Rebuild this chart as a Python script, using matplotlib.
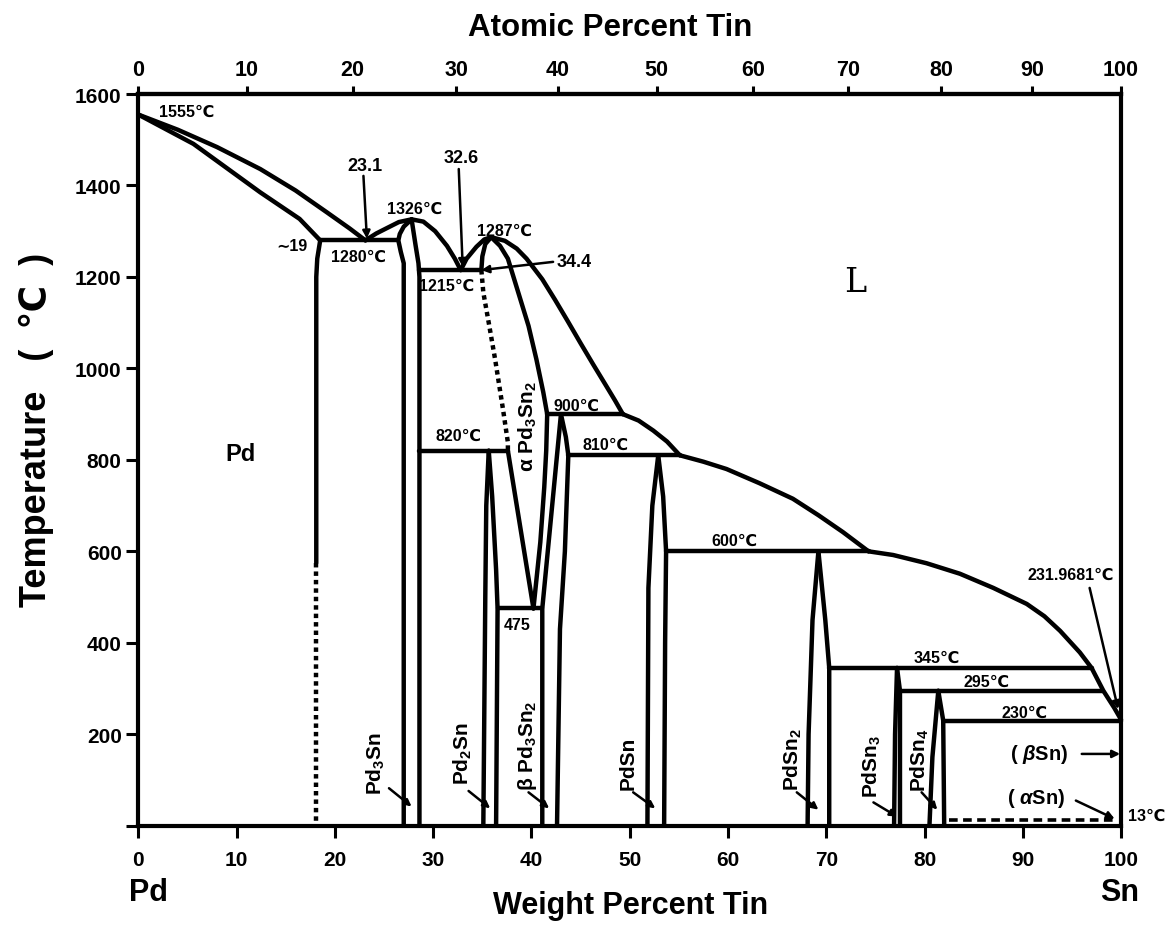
import matplotlib.pyplot as plt
import numpy as np

plt.rcParams["font.family"] = ["Liberation Sans", "DejaVu Sans"]
plt.rcParams["font.weight"] = "bold"
plt.rcParams["mathtext.fontset"] = "custom"
plt.rcParams["mathtext.rm"] = "Liberation Sans:bold"
plt.rcParams["mathtext.bf"] = "Liberation Sans:bold"
plt.rcParams["mathtext.it"] = "Liberation Sans:italic:bold"
plt.rcParams["mathtext.default"] = "bf"

M_PD = 106.42
M_SN = 118.71

# ---- phase boundaries, x in wt% Sn, t in deg C ----
pd_liq_x = [0, 4, 8, 12.4, 16, 19.2, 21.5, 23.1]
pd_liq_t = [1555, 1522, 1484, 1436, 1389, 1341, 1306, 1280]
pd_sol_x = [0, 5.6, 12.4, 16.4, 18.5]
pd_sol_t = [1555, 1491, 1385, 1327, 1280]
pd_solvus_x = [18.5, 18.2, 18.1, 18.1]
pd_solvus_t = [1280, 1240, 1200, 575]
pd_solvus_dot_x = [18.1, 18.1]
pd_solvus_dot_t = [575, 0]

pd3sn_liq_x = [23.1, 24.2, 25.3, 26.5, 27.8, 29.0, 30.2, 31.4, 32.2, 32.8]
pd3sn_liq_t = [1280, 1295, 1307, 1320, 1326, 1321, 1300, 1268, 1240, 1215]
pd3sn_left_x = [27.8, 27.0, 26.6, 26.45, 26.7, 27.0, 27.0]
pd3sn_left_t = [1326, 1310, 1294, 1280, 1255, 1230, 0]
pd3sn_right_x = [27.8, 28.2, 28.5, 28.6, 28.6]
pd3sn_right_t = [1326, 1270, 1230, 1200, 0]

liq_1287_x = [32.8, 33.4, 34.4, 35.2, 35.9, 37.3, 38.5, 39.5, 41.1, 42.4, 43.7, 45.0, 46.3, 47.6, 48.5, 49.3]
liq_1287_t = [1215, 1240, 1266, 1282, 1287, 1279, 1262, 1240, 1195, 1150, 1103, 1055, 1008, 962, 930, 900]
a_left_x = [34.9, 35.0, 35.3, 35.9]
a_left_t = [1215, 1245, 1272, 1287]
a_right_x = [35.9, 36.8, 37.6, 38.6, 39.7, 40.5, 41.2, 41.6, 41.5, 41.3, 40.9, 40.2]
a_right_t = [1287, 1268, 1240, 1170, 1093, 1020, 948, 900, 820, 740, 620, 475]
a_dot_x = [34.9, 35.1, 35.65, 36.3, 37.1, 37.6, 37.6]
a_dot_t = [1215, 1166, 1100, 1020, 911, 838, 820]
a_low_x = [37.6, 40.2]
a_low_t = [820, 475]

pd2sn_left_x = [35.65, 35.4, 35.3, 35.1]
pd2sn_left_t = [820, 700, 500, 0]
pd2sn_right_x = [35.65, 36.0, 36.4, 36.55, 36.4]
pd2sn_right_t = [820, 720, 560, 475, 0]

b_left_x = [43.0, 41.1, 41.1]
b_left_t = [900, 475, 0]
b_right_x = [43.0, 43.5, 43.75, 43.4, 42.9, 42.6]
b_right_t = [900, 850, 810, 600, 430, 0]

liq_900_x = [49.3, 50.9, 52.4, 53.8, 55.1]
liq_900_t = [900, 886, 864, 840, 810]

pdsn_left_x = [52.9, 52.3, 51.9, 51.8]
pdsn_left_t = [810, 700, 520, 0]
pdsn_right_x = [52.9, 53.4, 53.7, 53.6, 53.5]
pdsn_right_t = [810, 720, 600, 400, 0]

liq_810_x = [55.1, 57.5, 59.85, 63.2, 66.6, 69.2, 71.7, 74.3]
liq_810_t = [810, 796, 780, 749, 715, 679, 642, 600]

pdsn2_left_x = [69.2, 68.6, 68.2, 68.1]
pdsn2_left_t = [600, 450, 200, 0]
pdsn2_right_x = [69.2, 69.9, 70.3, 70.3]
pdsn2_right_t = [600, 450, 345, 0]

liq_600_x = [74.3, 76.8, 80.2, 83.6, 87.0, 90.4, 92.2, 93.8, 95.8, 97.0, 98.2, 99.3, 100]
liq_600_t = [600, 592, 574, 551, 520, 485, 458, 426, 379, 345, 295, 258, 232]

pdsn3_left_x = [77.2, 77.0, 76.9]
pdsn3_left_t = [345, 200, 0]
pdsn3_right_x = [77.2, 77.5, 77.5]
pdsn3_right_t = [345, 295, 0]
pdsn4_left_x = [81.4, 80.8, 80.5]
pdsn4_left_t = [295, 150, 0]
pdsn4_right_x = [81.4, 81.9, 82.0]
pdsn4_right_t = [295, 230, 0]

# invariant lines
iso_t = [1280, 1215, 820, 475, 900, 810, 600, 345, 295, 230]
iso_x0 = [18.5, 28.6, 28.6, 36.55, 41.6, 43.75, 53.7, 70.3, 77.5, 82.0]
iso_x1 = [26.45, 34.9, 37.6, 41.1, 49.3, 55.1, 74.3, 97.0, 98.2, 100]
sn_trans_t = 13
sn_trans_x = [82.5, 99.4]

# temperature / composition labels
note_text = ["1555℃", "∼19", "1280℃", "1326℃", "1287℃", "1215℃", "820℃", "900℃",
             "810℃", "600℃", "475", "345℃", "295℃", "230℃", "231.9681℃", "13℃"]
note_x = [4.9, 15.6, 22.4, 28.1, 37.3, 31.4, 32.6, 44.6, 47.5, 60.7, 38.5, 81.2, 86.3, 90.2, 94.9, 102.6]
note_y = [1562, 1268, 1246, 1349, 1303, 1181, 853, 920, 835, 623, 441, 368, 315, 248, 550, 22]

# labels tied to a point by an arrow
arrow_text = ["23.1", "32.6", "34.4", "", "( $\\mathit{\\beta}$Sn)", "( $\\mathit{\\alpha}$Sn)"]
arrow_text_x = [23.05, 32.8, 44.3, 0, 91.7, 91.4]
arrow_text_y = [1443, 1461, 1233, 0, 157, 62]
arrow_x0 = [22.9, 32.6, 42.2, 96.8, 96.0, 95.4]
arrow_y0 = [1421, 1436, 1233, 520, 157, 55]
arrow_x1 = [23.25, 33.0, 34.9, 99.7, 99.9, 99.35]
arrow_y1 = [1284, 1222, 1215, 255, 157, 15]

# vertical phase names with their pointers
phase_text = ["Pd$_3$Sn", "Pd$_2$Sn", "β Pd$_3$Sn$_2$", "PdSn", "PdSn$_2$", "PdSn$_3$", "PdSn$_4$"]
phase_x = [24.2, 33.05, 39.6, 49.8, 66.6, 74.6, 79.5]
phase_y = [139, 160, 177, 139, 146, 131, 146]
ptr_x0 = [25.5, 33.6, 39.7, 50.35, 67.0, 74.8, 79.7]
ptr_y0 = [82, 76, 73, 73, 73, 51, 73]
ptr_x1 = [27.8, 35.8, 41.8, 52.6, 69.2, 77.2, 81.3]
ptr_y1 = [42, 38, 38, 38, 35, 20, 35]


def wt_to_at(w):
    w = np.asarray(w, dtype=float)
    with np.errstate(divide="ignore", invalid="ignore"):
        return 100 * (w / M_SN) / (w / M_SN + (100 - w) / M_PD)


def at_to_wt(a):
    a = np.asarray(a, dtype=float)
    with np.errstate(divide="ignore", invalid="ignore"):
        return 100 * a * M_SN / (a * M_SN + (100 - a) * M_PD)


LW = 3.2
fig = plt.figure(figsize=(11.69, 9.29), dpi=100)
ax = fig.add_axes([0.1184, 0.1101, 0.8406, 0.7876])
ax.set_xlim(0, 100)
ax.set_ylim(0, 1600)


def boundary(x, t, **kw):
    ax.plot(x, t, color="k", lw=kw.pop("lw", LW), solid_capstyle="round",
            solid_joinstyle="round", clip_on=False, **kw)


curves = [
    (pd_liq_x, pd_liq_t), (pd_sol_x, pd_sol_t), (pd_solvus_x, pd_solvus_t),
    (pd3sn_liq_x, pd3sn_liq_t), (pd3sn_left_x, pd3sn_left_t), (pd3sn_right_x, pd3sn_right_t),
    (liq_1287_x, liq_1287_t), (a_left_x, a_left_t), (a_right_x, a_right_t), (a_low_x, a_low_t),
    (pd2sn_left_x, pd2sn_left_t), (pd2sn_right_x, pd2sn_right_t),
    (b_left_x, b_left_t), (b_right_x, b_right_t), (liq_900_x, liq_900_t),
    (pdsn_left_x, pdsn_left_t), (pdsn_right_x, pdsn_right_t), (liq_810_x, liq_810_t),
    (pdsn2_left_x, pdsn2_left_t), (pdsn2_right_x, pdsn2_right_t), (liq_600_x, liq_600_t),
    (pdsn3_left_x, pdsn3_left_t), (pdsn3_right_x, pdsn3_right_t),
    (pdsn4_left_x, pdsn4_left_t), (pdsn4_right_x, pdsn4_right_t),
]
for cx, ct in curves:
    boundary(cx, ct)

for t, x0, x1 in zip(iso_t, iso_x0, iso_x1):
    boundary([x0, x1], [t, t])

# dotted / dashed boundaries
ax.plot(pd_solvus_dot_x, pd_solvus_dot_t, color="k", lw=LW, ls=(0, (1.0, 0.9)), clip_on=False)
ax.plot(a_dot_x, a_dot_t, color="k", lw=LW, ls=(0, (1.0, 0.9)))
ax.plot(sn_trans_x, [sn_trans_t, sn_trans_t], color="k", lw=2.6, ls=(0, (2.4, 1.5)))

for s, x, y in zip(note_text, note_x, note_y):
    ax.text(x, y, s, fontsize=11.5, ha="center", va="center", clip_on=False)

for s, tx, ty, x0, y0, x1, y1 in zip(arrow_text, arrow_text_x, arrow_text_y,
                                     arrow_x0, arrow_y0, arrow_x1, arrow_y1):
    ax.annotate("", xy=(x1, y1), xytext=(x0, y0),
                arrowprops=dict(arrowstyle="-|>", color="k", lw=1.8, mutation_scale=11,
                                shrinkA=0, shrinkB=0))
    if s:
        size = 14.5 if "Sn" in s else 13
        ax.text(tx, ty, s, fontsize=size, ha="center", va="center")

for s, x, y in zip(phase_text, phase_x, phase_y):
    ax.text(x, y, s, fontsize=15, rotation=90, ha="center", va="center")
for x0, y0, x1, y1 in zip(ptr_x0, ptr_y0, ptr_x1, ptr_y1):
    ax.annotate("", xy=(x1, y1), xytext=(x0, y0),
                arrowprops=dict(arrowstyle="-|>", color="k", lw=1.8, mutation_scale=10,
                                shrinkA=0, shrinkB=0))

ax.text(39.6, 875, "α Pd$_3$Sn$_2$", fontsize=15, rotation=90, ha="center", va="center")
ax.text(10.4, 813, "Pd", fontsize=17, ha="center", va="center")
ax.text(72.9, 1189, "L", fontsize=24, fontweight="normal", family="DejaVu Serif",
        ha="center", va="center")

# axes, ticks
ax.set_xticks(np.arange(0, 101, 10))
ax.set_yticks(np.arange(0, 1601, 200))
ax.set_yticklabels([""] + [str(v) for v in range(200, 1601, 200)])
ax.tick_params(axis="x", direction="out", length=8.5, width=2.2, labelsize=15, pad=9)
ax.tick_params(axis="y", direction="out", length=8.5, width=2.2, labelsize=15, pad=3.5)
for side in ["left", "bottom", "top", "right"]:
    ax.spines[side].set_linewidth(3)

secax = ax.secondary_xaxis("top", functions=(wt_to_at, at_to_wt))
secax.set_xticks(np.arange(0, 101, 10))
secax.tick_params(direction="out", length=6, width=2.2, labelsize=15.5, pad=4)
secax.spines["top"].set_linewidth(3)

fig.text(0.522, 0.970, "Atomic Percent Tin", fontsize=22.5, ha="center", va="center")
fig.text(0.539, 0.025, "Weight Percent Tin", fontsize=22, ha="center", va="center")
fig.text(0.127, 0.039, "Pd", fontsize=22, ha="center", va="center")
fig.text(0.958, 0.039, "Sn", fontsize=22, ha="center", va="center")
fig.text(0.031, 0.537, "Temperature   (  ℃  )", fontsize=26, rotation=90,
         ha="center", va="center")

fig.savefig("out.png", dpi=100)
